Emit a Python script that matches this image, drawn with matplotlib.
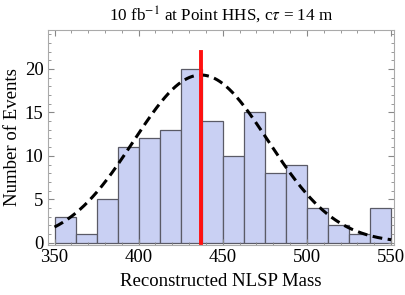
import matplotlib
matplotlib.use("Agg")
import matplotlib.pyplot as plt
import numpy as np
from matplotlib.ticker import MultipleLocator

plt.rcParams['font.family'] = ['Liberation Serif', 'DejaVu Serif']
plt.rcParams['mathtext.fontset'] = 'stix'

bin_edges = [350, 362.5, 375, 387.5, 400, 412.5, 425, 437.5, 450,
             462.5, 475, 487.5, 500, 512.5, 525, 537.5, 550]
counts = [3, 1, 5, 11, 12, 13, 20, 14, 10, 15, 8, 9, 4, 2, 1, 4]

fit_mean = 437.0
fit_sigma = 40.0
fit_peak = 19.3
marker_mass = 437.0
marker_top = 22

fig = plt.figure(figsize=(4.05, 2.95), dpi=100)
ax = fig.add_axes([0.118, 0.171, 0.856, 0.728])

lefts = np.array(bin_edges[:-1])
widths = np.diff(bin_edges)
ax.bar(lefts, counts, width=widths, align='edge', color='#c9d0f3',
       edgecolor='#5a5a66', linewidth=0.9)

xs = np.linspace(350, 550, 400)
ax.plot(xs, fit_peak * np.exp(-(xs - fit_mean) ** 2 / (2 * fit_sigma ** 2)),
        color='black', linestyle=(0, (3.2, 1.8)), linewidth=2.2)

ax.plot([marker_mass, marker_mass], [0, marker_top], color='#ff1010', linewidth=2.8)

ax.set_xlim(346, 552)
ax.set_ylim(-0.2, 24.5)
ax.xaxis.set_major_locator(MultipleLocator(50))
ax.xaxis.set_minor_locator(MultipleLocator(10))
ax.yaxis.set_major_locator(MultipleLocator(5))
ax.yaxis.set_minor_locator(MultipleLocator(1))
ax.tick_params(which='both', direction='in', top=True, right=True,
               color='#888888', labelsize=13.5)
ax.tick_params(which='major', length=4.5, width=0.8, pad=3)
ax.tick_params(which='minor', length=2.5, width=0.6)
for s in ax.spines.values():
    s.set_color('#aaaaaa')
    s.set_linewidth(0.8)

ax.set_xlabel('Reconstructed NLSP Mass', fontsize=13.5, labelpad=5)
ax.set_ylabel('Number of Events', fontsize=13.5, labelpad=3)
ax.set_title(r'10 fb$^{-1}$ at Point HHS, c$\tau$ = 14 m', fontsize=12.3, pad=7)

fig.savefig('out.png', dpi=100)
